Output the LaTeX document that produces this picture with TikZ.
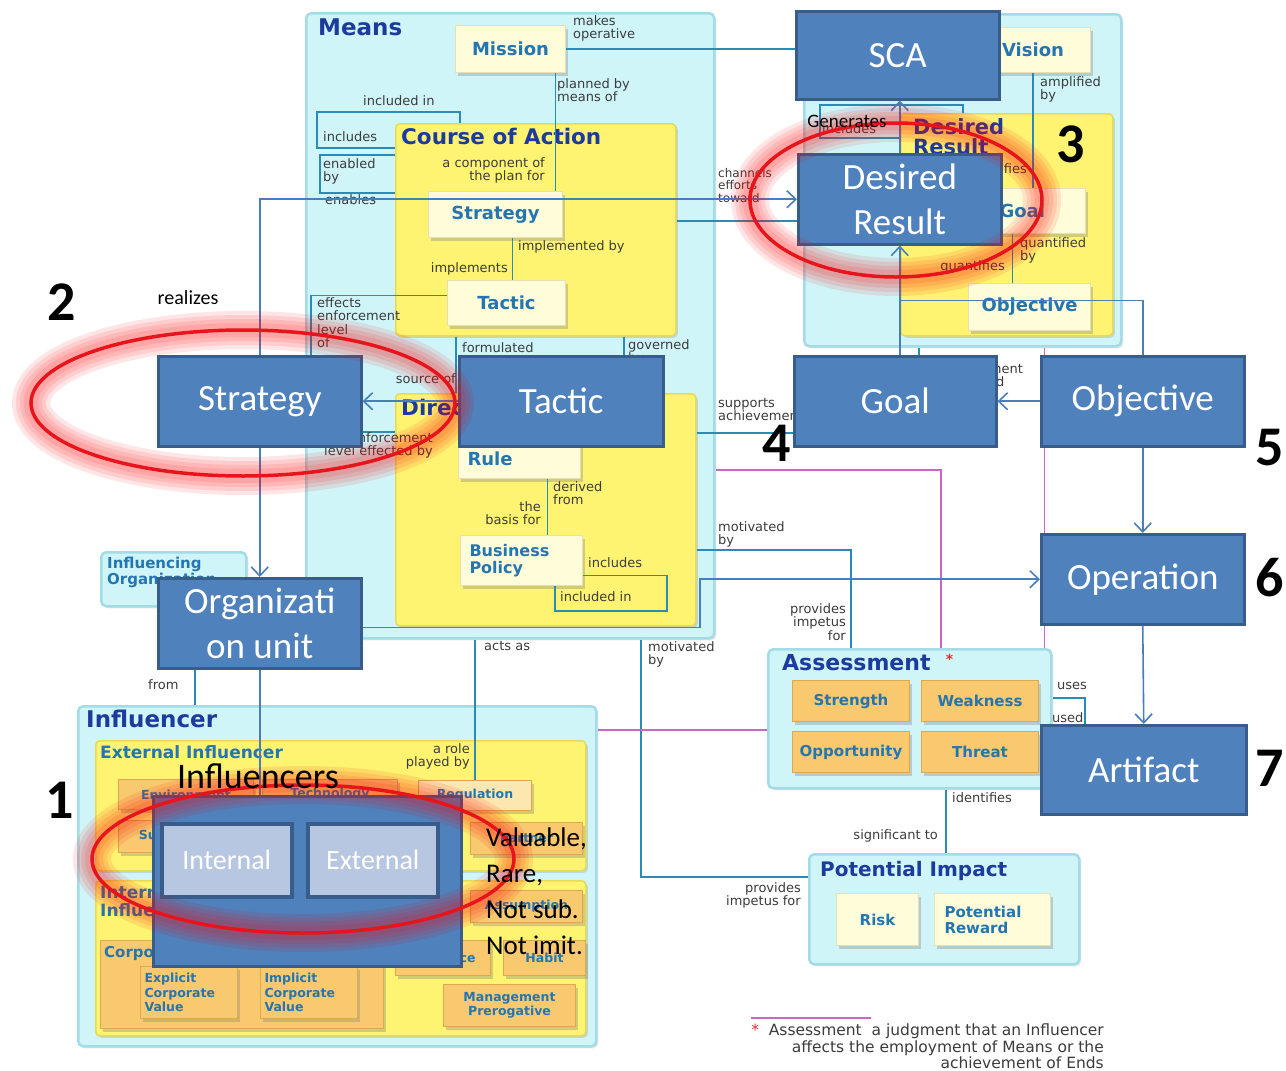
\documentclass[tikz,border=0pt]{standalone}
\usepackage{fontspec}
\setmainfont{Carlito}
\newfontfamily\dia{DejaVu Sans}
\usetikzlibrary{arrows.meta,shadows,calc}
\pgfdeclarelayer{bg}
\pgfdeclarelayer{fg}
\pgfsetlayers{bg,main,fg}

\definecolor{panelc}{HTML}{CFF5F9}
\definecolor{paneledge}{HTML}{A3DCE6}
\definecolor{yelc}{HTML}{FFF472}
\definecolor{yeledge}{HTML}{E9DA55}
\definecolor{creamc}{HTML}{FFFCD9}
\definecolor{creamedge}{HTML}{E6E0B2}
\definecolor{orngc}{HTML}{F8C96E}
\definecolor{orngedge}{HTML}{DDA850}
\definecolor{ttlc}{HTML}{1C3B9C}
\definecolor{itemc}{HTML}{2475B0}
\definecolor{labc}{HTML}{3C3C3C}
\definecolor{lnkc}{HTML}{2A8BB8}
\definecolor{pinkc}{HTML}{CC66C4}
\definecolor{ovc}{HTML}{4F81BD}
\definecolor{ovedge}{HTML}{385D8A}
\definecolor{ovlc}{HTML}{4A7EBB}
\definecolor{innerc}{HTML}{B8C7E1}
\definecolor{ringc}{HTML}{E8141B}
\definecolor{starc}{HTML}{E03030}

\tikzset{
  box/.style 2 args={anchor=north west, minimum width=#1, minimum height=#2},
  panel/.style={fill=panelc, draw=paneledge, line width=2.5, rounded corners=5, inner sep=0,
    drop shadow={opacity=0.2, shadow xshift=2pt, shadow yshift=-2pt}},
  yelp/.style={fill=yelc, draw=yeledge, line width=1.5, rounded corners=4, inner sep=0,
    drop shadow={opacity=0.25, shadow xshift=2pt, shadow yshift=-2pt}},
  item/.style={fill=creamc, draw=creamedge, line width=1, inner sep=0, text=itemc,
    font=\dia\bfseries\fontsize{18}{19}\selectfont, align=center,
    drop shadow={opacity=0.35, shadow xshift=2pt, shadow yshift=-3pt}},
  oitem/.style={item, fill=orngc, draw=orngedge, font=\dia\bfseries\fontsize{15}{16}\selectfont},
  sitem/.style={oitem, font=\dia\bfseries\fontsize{12.5}{14.5}\selectfont},
  ttl/.style={anchor=north west, inner sep=0, text=ttlc, font=\dia\bfseries\fontsize{21.5}{21}\selectfont, align=left},
  sttl/.style={ttl, text=itemc, font=\dia\bfseries\fontsize{17}{18}\selectfont},
  lab/.style={anchor=north west, inner sep=0, text=labc, font=\dia\fontsize{13}{13.5}\selectfont, align=left},
  labr/.style={lab, anchor=north east, align=right},
  lnk/.style={draw=lnkc, line width=1.6},
  pinkl/.style={draw=pinkc, line width=1.6},
  ov/.style={fill=ovc, draw=ovedge, line width=2.5, text=white, font=\fontsize{37}{45}\selectfont, align=center, inner sep=0},
  ovin/.style={fill=innerc, draw=ovedge, line width=3.5, text=white, font=\fontsize{28}{30}\selectfont, inner sep=0},
  ovl/.style={draw=ovlc, line width=1.6},
  ovarrow/.style={-{Straight Barb[length=9pt, width=17pt]}},
  num/.style={font=\bfseries\fontsize{56}{56}\selectfont, inner sep=0},
  ring/.style={draw=ringc, line width=3.5},
  glow/.style={draw=red, line width=#1, opacity=0.1}
}

\begin{document}
\begin{tikzpicture}[x=1pt,y=-1pt]
\useasboundingbox (0,0) rectangle (1286,1071);
\begin{pgfonlayer}{bg}
  \fill[white] (0,0) rectangle (1286,1071);
\end{pgfonlayer}

% ---------- highlighted concepts ----------
\node[ov, box={203}{88}] (sca) at (795,10) {SCA};
\node[ov, box={203}{90}] (dr) at (797,153) {Desired\\Result};
\node[ov, box={203}{90}] (strat) at (157,355) {Strategy};
\node[ov, box={204}{90}] (tac) at (458,355) {Tactic};
\node[ov, box={202}{90}] (goal) at (793,355) {Goal};
\node[ov, box={203}{90}] (obj) at (1040,355) {Objective};
\node[ov, box={203}{90}] (org) at (157,577) {Organizati\\on unit};
\node[ov, box={203}{90}] (oper) at (1040,533) {Operation};
\node[ov, box={205}{89}] (art) at (1040,724) {Artifact};
\node[ov, box={308}{170}] (infl) at (152,795) {};
\node[ovin, box={130}{73}] (internal) at (160,822) {Internal};
\node[ovin, box={130}{73}] (external) at (306,822) {External};

% ---------- business motivation model underneath ----------
\begin{pgfonlayer}{bg}
  % panels
  \node[panel, box={408}{625}] (means) at (305,12) {};
  \node[ttl, font=\dia\bfseries\fontsize{23}{23}\selectfont] (meansT) at (318,19) {Means};
  \node[yelp, box={280}{212}] (coa) at (395,123) {};
  \node[ttl] (coaT) at (401,128) {Course of Action};
  \node[yelp, box={300}{232}] (directive) at (395,393) {};
  \node[ttl] (dirT) at (401,399) {Directive};
  \node[panel, box={317}{332}] (ends) at (803,13) {};
  \node[yelp, box={212}{222}] (dres) at (900,113) {};
  \node[ttl, font=\dia\bfseries\fontsize{21}{20}\selectfont] (dresT) at (913,118) {Desired\\Result};
  \node[panel, box={145}{54}] (inforg) at (100,551) {};
  \node[sttl, font=\dia\bfseries\fontsize{15}{16}\selectfont] (inforgT) at (107,557) {Influencing\\Organization};
  \node[panel, box={283}{139}] (assess) at (767,648) {};
  \node[ttl, font=\dia\bfseries\fontsize{22}{22}\selectfont] (assessT) at (782,654)
    {Assessment\ \ {\color{starc}\raisebox{6pt}{\fontsize{14}{14}\selectfont*}}};
  \node[panel, box={270}{110}] (potimp) at (808,853) {};
  \node[ttl, font=\dia\bfseries\fontsize{20}{20}\selectfont] (potimpT) at (820,861) {Potential Impact};
  \node[panel, box={518}{340}] (influencer) at (77,705) {};
  \node[ttl, font=\dia\bfseries\fontsize{23}{23}\selectfont] (inflT) at (86,710) {Influencer};
  \node[yelp, box={490}{130}] (extinf) at (95,740) {};
  \node[sttl] (extT) at (100,745) {External Influencer};
  \node[yelp, box={490}{155}] (intinf) at (95,880) {};
  \node[sttl] (intT) at (100,885) {Internal\\Influencer};
  \node[oitem, box={283}{88}] (corpval) at (100,940) {};
  \node[sttl, font=\dia\bfseries\fontsize{15}{16}\selectfont] (corpT) at (104,946) {Corporate Value};

  % elements
  \node[item, box={110}{47}] (mission) at (455,25) {Mission};
  \node[item, box={134}{46}] (stratin) at (428,191) {Strategy};
  \node[item, box={118}{45}] (tacin) at (447,280) {Tactic};
  \node[item, box={122}{40}, inner xsep=9pt, text width=104pt, align=left] (rule) at (458,438) {Rule};
  \node[item, box={122}{50}, inner xsep=9pt, text width=104pt, align=left,
    font=\dia\bfseries\fontsize{16}{17}\selectfont] (bpol) at (460,535) {Business\\Policy};
  \node[item, box={115}{45}] (vision) at (975,27) {Vision};
  \node[item, box={100}{45}, inner xsep=14pt, text width=72pt, align=left] (goalin) at (985,188) {Goal};
  \node[item, box={122}{47}] (objin) at (968,283) {Objective};

  \node[oitem, box={117}{41}] (strength) at (792,680) {Strength};
  \node[oitem, box={117}{41}] (weak) at (921,680) {Weakness};
  \node[oitem, box={117}{41}] (opp) at (792,731) {Opportunity};
  \node[oitem, box={117}{41}] (threat) at (921,731) {Threat};
  \node[item, box={82}{52}, font=\dia\bfseries\fontsize{15}{16}\selectfont] (risk) at (836,893) {Risk};
  \node[item, box={116}{52}, inner xsep=10pt, text width=96pt, align=left,
    font=\dia\bfseries\fontsize{15}{16}\selectfont] (reward) at (934,893) {Potential\\Reward};

  \node[sitem, box={135}{30}] (env) at (118,779) {Environment};
  \node[sitem, box={135}{30}] (tech) at (262,779) {Technology};
  \node[sitem, box={113}{30}, fill=creamc!60!orngc] (reg) at (418,780) {Regulation};
  \node[sitem, box={100}{32}] (supplier) at (118,820) {Supplier};
  \node[sitem, box={100}{32}] (customer) at (232,820) {Customer};
  \node[sitem, box={112}{32}] (competitor) at (345,820) {Competitor};
  \node[sitem, box={112}{32}] (partner) at (470,822) {Partner};
  \node[sitem, box={112}{32}] (assumption) at (470,890) {Assumption};
  \node[sitem, box={97}{52}, inner xsep=4pt, text width=89pt, align=left] (explicit) at (140,966) {Explicit\\Corporate\\Value};
  \node[sitem, box={97}{52}, inner xsep=4pt, text width=89pt, align=left] (implicit) at (260,966) {Implicit\\Corporate\\Value};
  \node[sitem, box={95}{35}] (resource) at (395,940) {Resource};
  \node[sitem, box={82}{35}] (habit) at (503,940) {Habit};
  \node[sitem, box={132}{42}] (mgmt) at (443,984) {Management\\Prerogative};

  % associations inside Means
  \draw[lnk] (mission.east) -- (mission.east -| sca.west);
  \coordinate (mp) at ($(mission.south)+(45,0)$);
  \draw[lnk] (mp) -- (mp |- stratin.north);
  \coordinate (si) at ($(stratin.south)+(17,0)$);
  \draw[lnk] (si) -- (si |- tacin.north);
  \draw[lnk] ($(coa.north west)+(65,0)$) |- ($(coa.north west)+(-78,-11)$) |- ($(coa.north west)+(0,25)$);
  \draw[lnk] ($(coa.north west)+(0,32)$) -| ($(coa.north west)+(-75,70)$) -- ($(coa.north west)+(0,70)$);
  \coordinate (ee) at ($(tacin.west)+(0,-7.5)$);
  \coordinate (ed) at ($(directive.north west)+(0,39)$);
  \draw[lnk] (ee) -| ($(ed)+(-84,0)$) -- (ed);
  \coordinate (fb) at ($(coa.south)+(-80,0)$);
  \draw[lnk] (fb) -- (fb |- directive.north);
  \coordinate (gb) at ($(coa.south)+(88,0)$);
  \draw[lnk] (gb) -- (gb |- directive.north);
  \coordinate (rb) at ($(rule.south)+(28,0)$);
  \draw[lnk] (rb) -- (rb |- bpol.north);
  \draw[lnk] ($(bpol.east)+(0,15)$) -| ($(bpol.south west)+(207,25)$) -| ($(bpol.south west)+(95,0)$);
  \coordinate (ch) at ($(dr.west)+(0,22)$);
  \draw[lnk] (ch -| coa.east) -- (ch);
  \coordinate (sa) at ($(goal.west)+(0,32)$);
  \draw[lnk] (sa -| directive.east) -- (sa);

  % associations inside Ends
  \draw[lnk] (vision.south) -- (vision.south |- goalin.north);
  \coordinate (qb) at ($(goalin.south)+(-23,0)$);
  \draw[lnk] (qb) -- (qb |- objin.north);
  \draw[lnk] ($(dres.north west)+(0,25)$) -| ($(dres.north west)+(-80,-8)$) -| ($(dres.north west)+(63,0)$);
  \coordinate (eg) at ($(goal.north)+(24,0)$);
  \draw[lnk] (eg |- ends.south) -- (eg);

  % associations to assessment, impact and influencers
  \coordinate (mo) at ($(directive.north east)+(0,157)$);
  \draw[lnk] (mo) -| ($(assess.north)+(-58.5,0)$);
  \coordinate (pi) at ($(potimp.north west)+(0,24)$);
  \draw[lnk] ($(means.south)+(131,0)$) |- (pi);
  \draw[lnk] (reg.north |- means.south) -- (reg.north);
  \coordinate (fr) at ($(org.south)+(-65,0)$);
  \draw[lnk] (fr) -- (fr |- influencer.north);
  \draw[lnk] ($(assess.north east)+(0,50)$) -| ($(art.north west)+(45,0)$);
  \coordinate (id) at ($(assess.south)+(36.5,0)$);
  \draw[lnk] (id) -- (id |- potimp.north);

  \draw[pinkl] ($(means.north east)+(0,458)$) -| ($(assess.north)+(31.5,0)$);
  \coordinate (pv) at ($(assess.north east)+(-8,0)$);
  \draw[pinkl] (pv |- ends.south) -- (pv);
  \coordinate (ph) at ($(assess.north west)+(0,82)$);
  \draw[pinkl] (ph -| influencer.east) -- (ph);

  % role names
  \node[lab] (l1) at (573,15) {makes\\operative};
  \node[lab] (l2) at (557,78) {planned by\\means of};
  \node[lab] (l3) at (363,95) {included in};
  \node[lab] (l4) at (323,131) {includes};
  \node[lab] (l5) at (323,158) {enabled\\by};
  \node[lab] (l6) at (325,194) {enables};
  \node[labr] (l7) at (545,157) {a component of\\the plan for};
  \node[lab] (l8) at (518,240) {implemented by};
  \node[labr] (l9) at (508,262) {implements};
  \node[lab] (l10) at (317,297) {effects\\enforcement\\level\\of};
  \node[lab] (l11) at (462,342) {formulated\\based on};
  \node[lab] (l12) at (628,339) {governed\\by};
  \node[labr] (l13) at (456,373) {source of};
  \node[labr] (l14) at (433,432) {enforcement\\level effected by};
  \node[lab] (l15) at (553,481) {derived\\from};
  \node[labr] (l16) at (541,501) {the\\basis for};
  \node[lab] (l17) at (588,557) {includes};
  \node[lab] (l18) at (560,591) {included in};
  \node[lab, font=\dia\fontsize{12}{12.5}\selectfont] (l19) at (718,168) {channels\\efforts\\toward};
  \node[lab] (l20) at (1040,76) {amplified\\by};
  \node[labr] (l21) at (1027,163) {amplifies};
  \node[lab] (l22) at (1020,237) {quantified\\by};
  \node[labr] (l23) at (1005,260) {quantifies};
  \node[lab] (l24) at (822,123) {includes};
  \node[lab] (l25) at (718,398) {supports\\achievement of};
  \node[lab] (l26) at (938,363) {achievement\\supported\\by};
  \node[lab] (l27) at (718,521) {motivated\\by};
  \node[labr] (l28) at (846,603) {provides\\impetus\\for};
  \node[lab] (l29) at (484,641) {acts as};
  \node[lab] (l30) at (648,641) {motivated\\by};
  \node[labr] (l31) at (801,882) {provides\\impetus for};
  \node[lab] (l32) at (148,679) {from};
  \node[labr] (l33) at (470,743) {a role\\played by};
  \node[lab] (l34) at (1057,682) {uses};
  \node[lab] (l35) at (1052,712) {used\\by};
  \node[lab] (l36) at (952,792) {identifies};
  \node[labr] (l37) at (938,829) {significant to};

  % footnote
  \node[labr, font=\dia\fontsize{15.5}{16.5}\selectfont] (note) at (1104,1024)
    {{\color{starc}*}\ \ Assessment\ \ a judgment that an Influencer\\affects the employment of Means or the\\achievement of Ends};
  \draw[pinkl] ($(note.north west)+(0,-6)$) -- ++(120,0);
\end{pgfonlayer}

% ---------- connectors between highlighted concepts ----------
\draw[ovl, ovarrow] (strat.north) |- (dr.west);
\draw[ovl, ovarrow] (tac.west) -- (strat.east);
\draw[ovl, ovarrow] (strat.south) -- (org.north);
\draw[ovl] (org.south) -- (org.south |- infl.north);
\coordinate (ou) at ($(org.south east)+(0,-42)$);
\draw[ovl, ovarrow] (ou) -| ($(oper.west)+(-340,0)$) -- (oper.west);
\draw[ovl, ovarrow] (dr.north) -- (dr.north |- sca.south);
\draw[ovl, ovarrow] (dr.south |- goal.north) -- (dr.south);
\draw[ovl] (obj.north) |- ($(dr.south)+(0,55)$);
\draw[ovl, ovarrow] (obj.west) -- (goal.east);
\draw[ovl, ovarrow] (obj.south) -- (oper.north);
\draw[ovl, ovarrow] (oper.south) -- (art.north);

% ---------- highlight rings, numbers and notes ----------
\begin{pgfonlayer}{fg}
  \foreach \w in {38,30,22,14}{
    \draw[glow=\w] (243,403) ellipse [x radius=212, y radius=73];
    \draw[glow=\w] (896,200) ellipse [x radius=146, y radius=77];
    \draw[glow=\w] (303,859) ellipse [x radius=211, y radius=74];
  }
  \draw[ring] (243,403) ellipse [x radius=212, y radius=73];
  \draw[ring] (896,200) ellipse [x radius=146, y radius=77];
  \draw[ring] (303,859) ellipse [x radius=211, y radius=74];

  \node[num] (n1) at (60,800) {1};
  \node[num] (n2) at (62,302) {2};
  \node[num] (n3) at (1071,144) {3};
  \node[num] (n4) at (777,443) {4};
  \node[num] (n5) at (1270,448) {5};
  \node[num] (n6) at (1270,578) {6};
  \node[num] (n7) at (1270,768) {7};

  \node[font=\fontsize{20}{20}\selectfont, inner sep=0] (realizes) at (188,298) {realizes};
  \node[font=\fontsize{19}{19}\selectfont, inner sep=0] (generates) at (847,121) {Generates};
  \node[font=\fontsize{36}{36}\selectfont, inner sep=0] (inflabel) at (258,776) {Influencers};
  \node[anchor=north west, align=left, inner sep=0, font=\fontsize{27}{36}\selectfont] (vrin) at (486,828)
    {Valuable,\\Rare,\\Not sub.\\Not imit.};
\end{pgfonlayer}
\end{tikzpicture}
\end{document}
